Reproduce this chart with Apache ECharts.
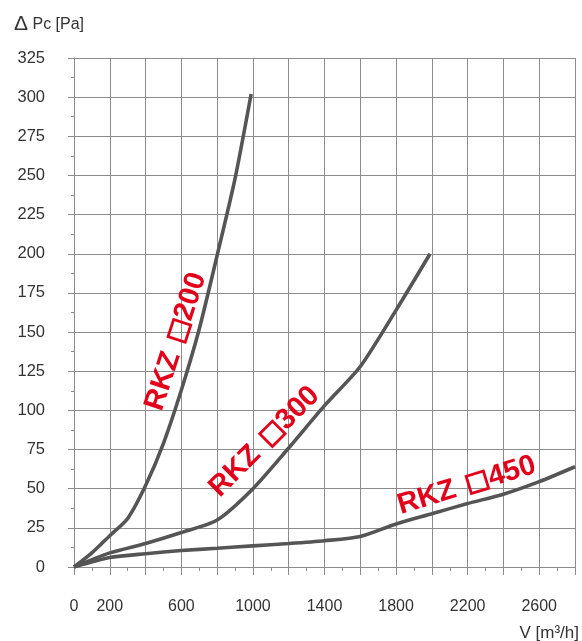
<!DOCTYPE html>
<html><head><meta charset="utf-8">
<script src="https://cdn.jsdelivr.net/npm/echarts@6/dist/echarts.min.js"></script>
<style>html,body{margin:0;padding:0;background:#fff}#c{width:582px;height:641px}</style>
</head><body><div id="c"></div>
<script>
// Data: [airflow V m3/h, pressure drop Pa]
const rkz200 = [[0,0],[100,9],[200,20],[300,31],[400,52],[500,79],[600,113],[700,152],[800,199],[900,248],[990,302]];
const rkz300 = [[0,0],[200,9],[400,15],[600,22],[800,30],[1000,50],[1200,76],[1400,103],[1600,128],[1800,164],[1990,200]];
const rkz450 = [[0,0],[200,6],[400,8.5],[600,10.5],[800,12],[1000,13.5],[1200,15],[1400,16.8],[1600,19.5],[1800,27.5],[2000,34],[2200,40.5],[2400,46.5],[2600,54.5],[2800,64]];
const seriesPrefix = 'RKZ';
const seriesSizes = ['200','300','450'];
const xTickLabels = [0,200,600,1000,1400,1800,2200,2600];
const yTickLabels = [0,25,50,75,100,125,150,175,200,225,250,275,300,325];
// label anchor (data coords) and rotation (deg)
const labelAnchors = [[570,144,72],[1065,80,45],[2195,52,17]];

const chart = echarts.init(document.getElementById('c'));
const gridCol = '#8c8c8c';
const FF = 'Liberation Sans, Arial, sans-serif';
const txt = {color:'#333', fontSize:16, fontFamily:FF};
const lineStyle = {color:'#555', width:3.6};
function mk(name, data){
  return {name, type:'line', data, showSymbol:false, smooth:0.25, lineStyle, z:3};
}
chart.setOption({
  animation:false,
  grid:{left:74, right:7, top:58, bottom:74},
  xAxis:{type:'value', min:0, max:2800, interval:200,
    axisLine:{show:true, lineStyle:{color:gridCol, width:1}},
    axisTick:{show:true, length:8, lineStyle:{color:gridCol}},
    minorTick:{show:true, splitNumber:2, length:4, lineStyle:{color:gridCol}},
    splitLine:{show:true, lineStyle:{color:gridCol, width:1}},
    axisLabel:{...txt, margin:32, formatter:v=>xTickLabels.includes(v)?String(v):''}
  },
  yAxis:{type:'value', min:0, max:325, interval:25,
    axisLine:{show:true, lineStyle:{color:gridCol, width:1}},
    axisTick:{show:true, length:6, lineStyle:{color:gridCol}},
    minorTick:{show:true, splitNumber:2, length:3, lineStyle:{color:gridCol}},
    splitLine:{show:true, lineStyle:{color:gridCol, width:1}},
    axisLabel:{...txt, fontSize:16.5, margin:29, formatter:v=>yTickLabels.includes(v)?String(v):''}
  },
  series:[mk('RKZ 200',rkz200),mk('RKZ 300',rkz300),mk('RKZ 450',rkz450)]
});
const red = '#e2001a';
const labFont = 'bold 29px "Liberation Sans", Arial, sans-serif';
const ctx = document.createElement('canvas').getContext('2d');
ctx.font = labFont;
const gfx = [
  {type:'text', left:14, top:14, style:{text:'{d|Δ} Pc [Pa]', fill:'#333', font:'16px '+FF,
    rich:{d:{fontSize:21, fontFamily:FF, fill:'#333', verticalAlign:'bottom'}}}},
  {type:'text', right:3, top:625, style:{text:'V [m³/h]', fill:'#333', font:'17px '+FF}}
];
labelAnchors.forEach((a,i)=>{
  const p = chart.convertToPixel({gridIndex:0},[a[0],a[1]]);
  const wT = ctx.measureText(seriesPrefix).width;
  const wN = ctx.measureText(seriesSizes[i]).width;
  const gap1 = 14, sq = 18, gap2 = 3;
  const L = wT + gap1 + sq + gap2 + wN;
  const x0 = -L/2;
  gfx.push({type:'group', x:p[0], y:p[1], rotation:a[2]*Math.PI/180, z:10, children:[
    {type:'text', x:x0, y:0, style:{text:seriesPrefix, font:labFont, fill:red, align:'left', verticalAlign:'middle'}},
    {type:'rect', shape:{x:x0+wT+gap1, y:-sq/2, width:sq, height:sq}, style:{fill:'none', stroke:red, lineWidth:2.8}},
    {type:'text', x:x0+wT+gap1+sq+gap2, y:0, style:{text:seriesSizes[i], font:labFont, fill:red, align:'left', verticalAlign:'middle'}}
  ]});
});
chart.setOption({graphic:gfx});
</script></body></html>
